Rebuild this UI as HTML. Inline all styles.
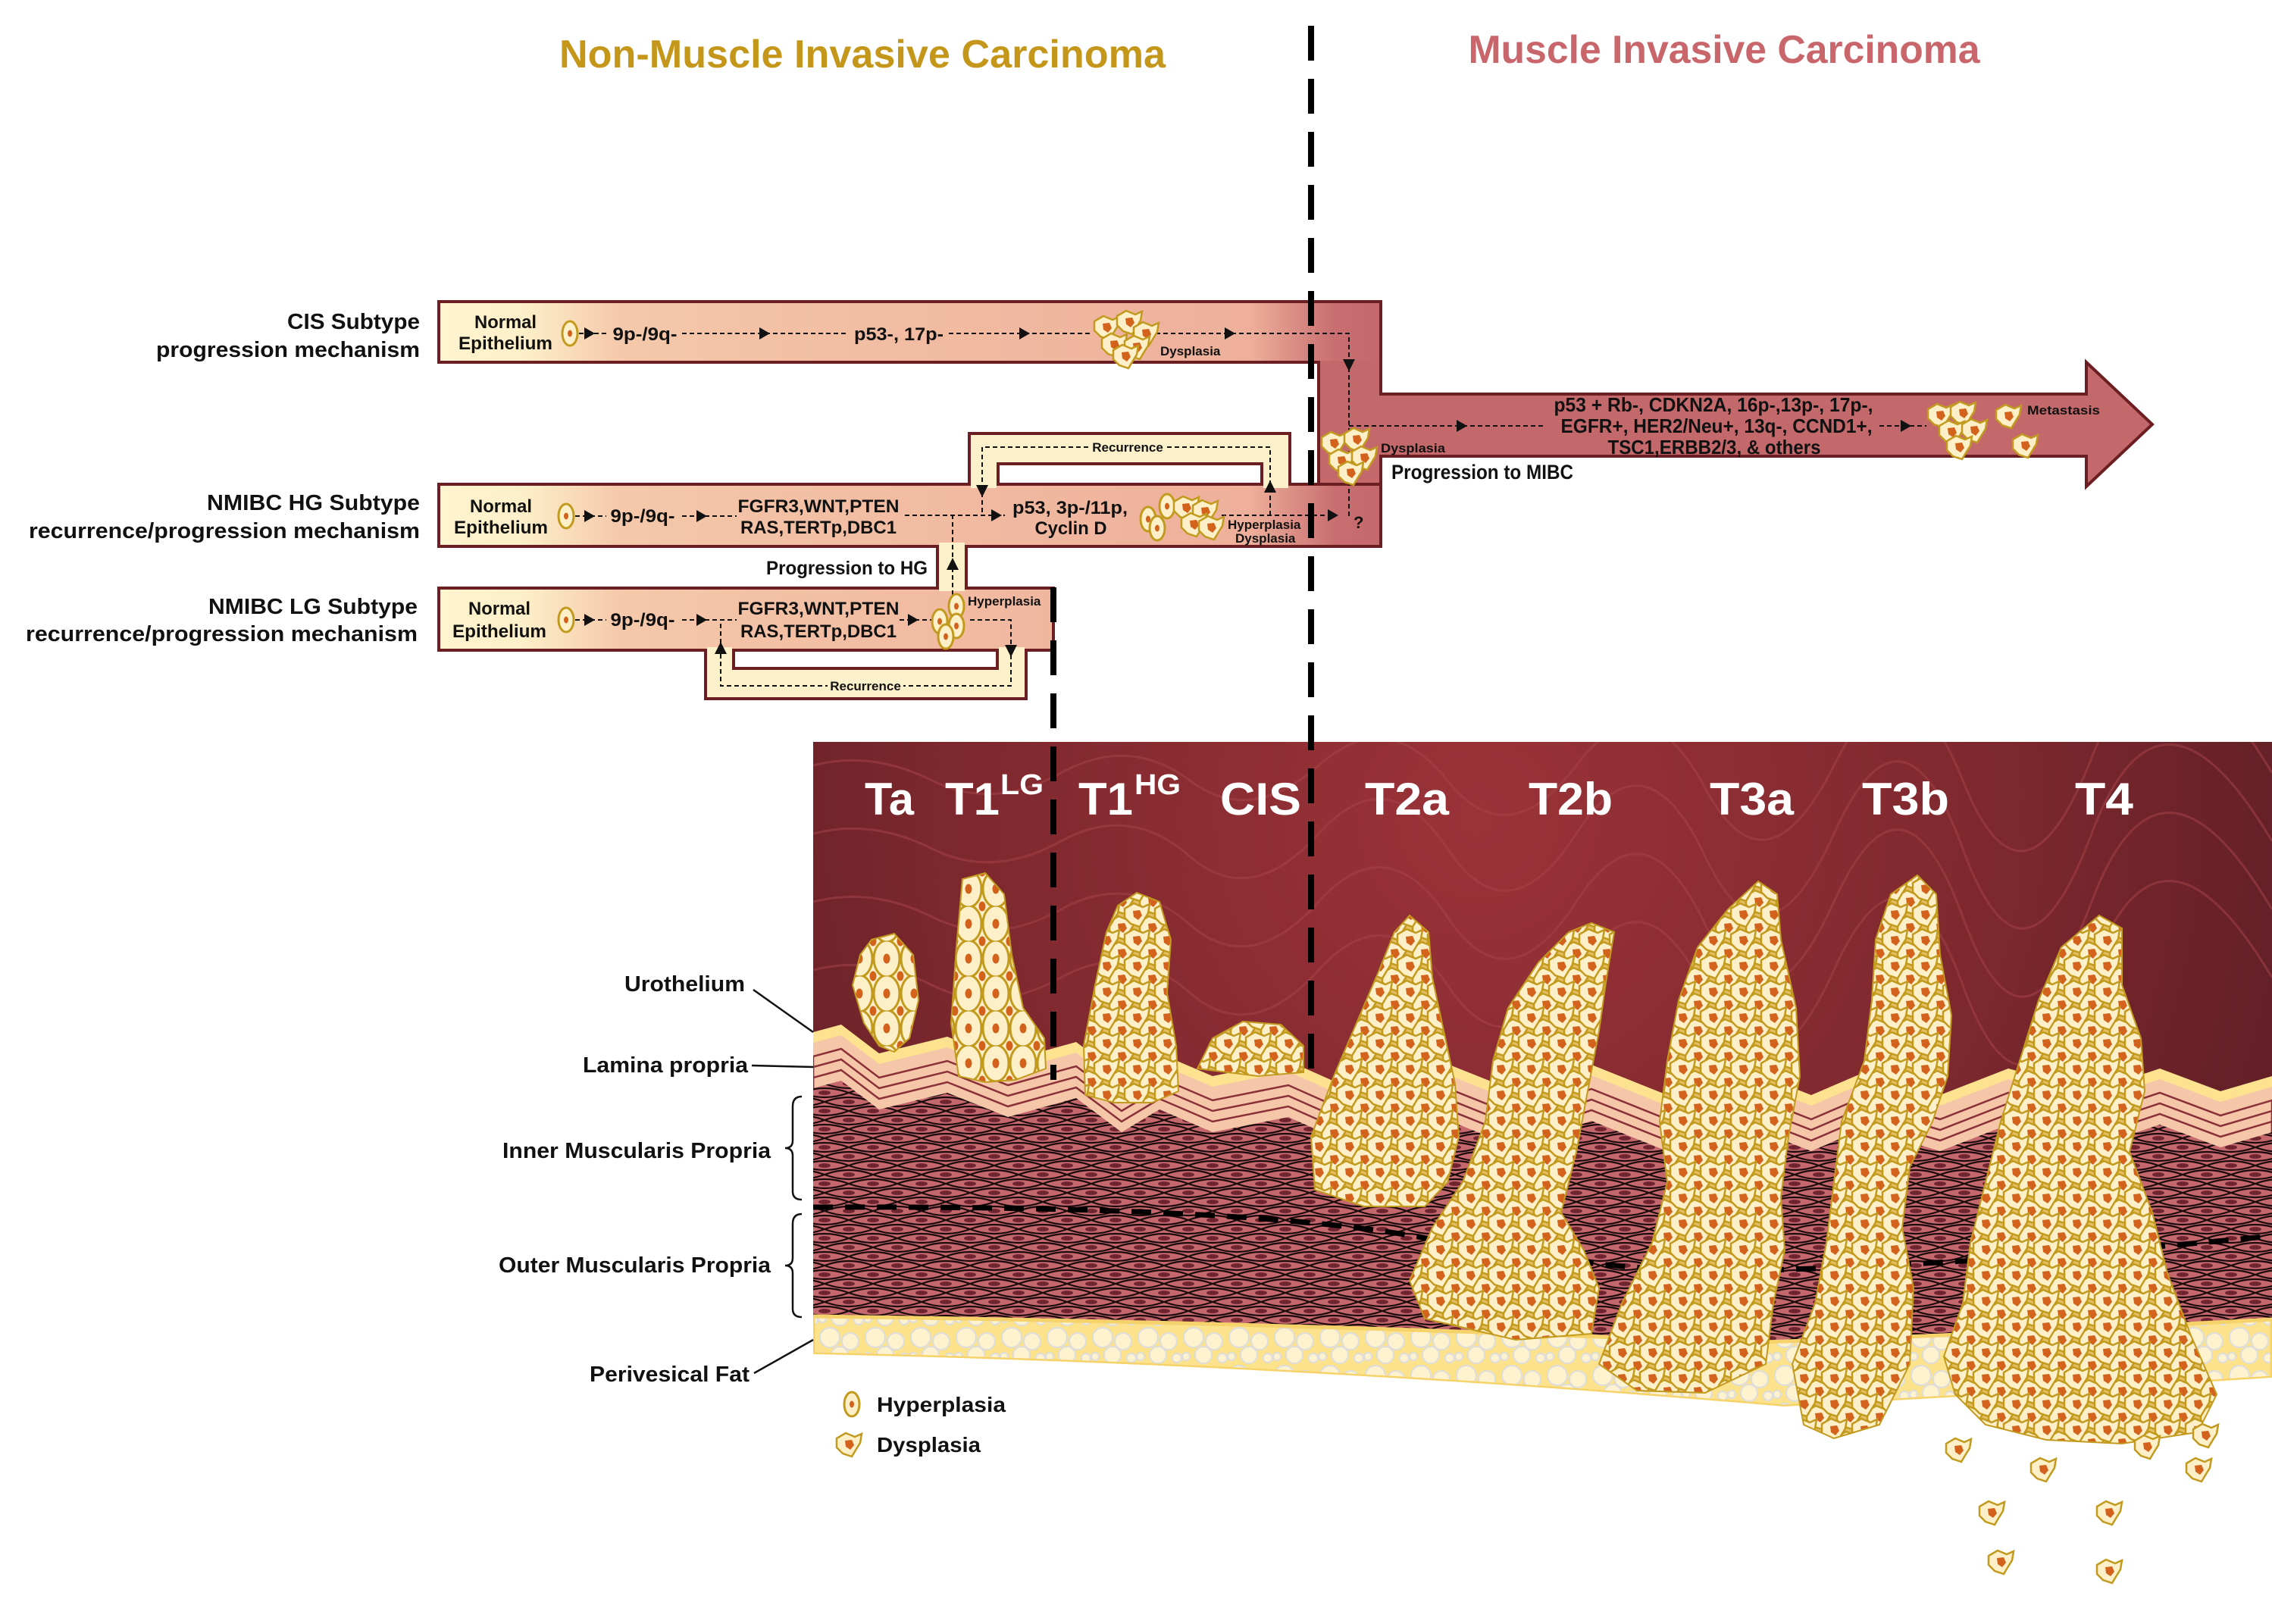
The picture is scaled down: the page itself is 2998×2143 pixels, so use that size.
<!DOCTYPE html>
<html><head><meta charset="utf-8"><style>html,body{margin:0;padding:0;background:#fff}svg{display:block}text{font-family:"Liberation Sans",sans-serif;font-weight:bold}</style></head><body>
<svg width="2998" height="2143" viewBox="0 0 2998 2143" xmlns="http://www.w3.org/2000/svg">
<defs>
<linearGradient id="bar" gradientUnits="userSpaceOnUse" x1="579" y1="0" x2="1822" y2="0">
<stop offset="0" stop-color="#fef4cf"/><stop offset="0.09" stop-color="#fdefc9"/><stop offset="0.19" stop-color="#f5c9ab"/><stop offset="0.35" stop-color="#f3c1a5"/><stop offset="0.86" stop-color="#eeb09b"/><stop offset="0.95" stop-color="#c96f71"/><stop offset="1" stop-color="#c4696b"/>
</linearGradient>
<radialGradient id="tis" gradientUnits="userSpaceOnUse" cx="1950" cy="1080" r="1150">
<stop offset="0" stop-color="#9a3338"/><stop offset="0.6" stop-color="#7d282e"/><stop offset="1" stop-color="#5e1f25"/>
</radialGradient>
<g id="dc"><path d="M-16,-8 L-4,-15 L8,-10 L17,-14 L15,-2 L10,6 L4,16 L-8,12 L-16,4 Z" fill="#fdf0c8" stroke="#c29a1e" stroke-width="2.5"/><path d="M-5,-5 L4,-6 L7,1 L2,7 L-4,3Z" fill="#d2621c"/></g>
<g id="hc"><ellipse rx="10" ry="16" fill="#fdf0c8" stroke="#c29a1e" stroke-width="3"/><ellipse rx="3" ry="4.5" fill="#d2621c"/></g>
<g id="hb"><ellipse rx="17" ry="24" fill="#fdf0c8" stroke="#c29a1e" stroke-width="3"/><ellipse rx="4.5" ry="6.5" fill="#d2621c"/></g>
<pattern id="dys" width="40" height="34" patternUnits="userSpaceOnUse">
<rect width="40" height="34" fill="#e4bf62"/>
<use href="#dc" x="0" y="0"/><use href="#dc" x="40" y="0"/><use href="#dc" x="0" y="34"/><use href="#dc" x="40" y="34"/><use href="#dc" x="20" y="17"/>
</pattern>
<pattern id="hyp" width="36" height="46" patternUnits="userSpaceOnUse">
<use href="#hb" x="0" y="0"/><use href="#hb" x="36" y="0"/><use href="#hb" x="0" y="46"/><use href="#hb" x="36" y="46"/><use href="#hb" x="18" y="23"/>
</pattern>
<pattern id="mus" width="64" height="24" patternUnits="userSpaceOnUse">
<rect width="64" height="24" fill="#c4686e"/>
<g fill="none" stroke="#1a0a0c" stroke-width="2.2">
<path d="M0,12 Q32,0 64,12 Q32,24 0,12"/>
<path d="M-32,0 Q0,12 32,0 M32,0 Q64,12 96,0"/>
<path d="M-32,24 Q0,12 32,24 M32,24 Q64,12 96,24"/>
</g>
<ellipse cx="32" cy="12" rx="8" ry="3" fill="#6e2530"/><ellipse cx="0" cy="0" rx="8" ry="3" fill="#6e2530"/><ellipse cx="64" cy="0" rx="8" ry="3" fill="#6e2530"/><ellipse cx="0" cy="24" rx="8" ry="3" fill="#6e2530"/><ellipse cx="64" cy="24" rx="8" ry="3" fill="#6e2530"/>
</pattern>
<pattern id="fat" width="60" height="50" patternUnits="userSpaceOnUse">
<rect width="60" height="50" fill="#fde28c"/>
<g fill="#fef2cf" stroke="#ddd" stroke-width="2">
<circle cx="15" cy="15" r="13"/><circle cx="42" cy="20" r="11"/><circle cx="28" cy="38" r="11"/><circle cx="53" cy="42" r="6"/><circle cx="5" cy="40" r="5"/>
</g>
</pattern>
<clipPath id="tclip"><rect x="1073" y="979" width="1925" height="1164"/></clipPath>
<path id="wave" d="M1073,1362 L1110,1352 L1160,1390 L1250,1368 L1330,1400 L1420,1375 L1480,1420 L1530,1390 L1600,1420 L1700,1400 L1790,1440 L1900,1400 L2000,1440 L2100,1405 L2200,1445 L2300,1410 L2390,1445 L2460,1415 L2560,1445 L2650,1410 L2760,1440 L2850,1410 L2930,1440 L2998,1420 L2998,2143 L1073,2143 Z"/>
</defs>

<text x="1138" y="89" font-size="52" fill="#c4961a" text-anchor="middle" textLength="800" lengthAdjust="spacingAndGlyphs">Non-Muscle Invasive Carcinoma</text>
<text x="2275" y="83" font-size="52" fill="#c9666b" text-anchor="middle" textLength="675" lengthAdjust="spacingAndGlyphs">Muscle Invasive Carcinoma</text>

<g font-size="29" fill="#111" text-anchor="end">
<text x="554" y="434" textLength="175" lengthAdjust="spacingAndGlyphs">CIS Subtype</text>
<text x="554" y="471" textLength="348" lengthAdjust="spacingAndGlyphs">progression mechanism</text>
<text x="554" y="673" textLength="281" lengthAdjust="spacingAndGlyphs">NMIBC HG Subtype</text>
<text x="554" y="710" textLength="516" lengthAdjust="spacingAndGlyphs">recurrence/progression mechanism</text>
<text x="551" y="810" textLength="276" lengthAdjust="spacingAndGlyphs">NMIBC LG Subtype</text>
<text x="551" y="846" textLength="517" lengthAdjust="spacingAndGlyphs">recurrence/progression mechanism</text>
</g>

<rect x="1279" y="572" width="423" height="80" fill="#fdf1cc" stroke="#6b1f22" stroke-width="4"/>
<rect x="1317" y="612" width="348" height="40" fill="#fff" stroke="#6b1f22" stroke-width="4"/>
<rect x="931" y="840" width="423" height="82" fill="#fdf1cc" stroke="#6b1f22" stroke-width="4"/>
<rect x="968" y="840" width="348" height="42" fill="#fff" stroke="#6b1f22" stroke-width="4"/>
<rect x="1237" y="710" width="38" height="80" fill="#fdf1cc" stroke="#6b1f22" stroke-width="4"/>

<path d="M1740,470 L1822,470 L1822,520 L2753,520 L2753,478 L2840,560 L2753,642 L2753,602 L1822,602 L1822,721 L1740,721 Z" fill="#c4696b" stroke="#6b1f22" stroke-width="4"/>
<rect x="579" y="398" width="1243" height="80" fill="url(#bar)" stroke="#6b1f22" stroke-width="4"/>
<rect x="579" y="639" width="1243" height="82" fill="url(#bar)" stroke="#6b1f22" stroke-width="4"/>
<rect x="579" y="776" width="811" height="82" fill="url(#bar)" stroke="#6b1f22" stroke-width="4"/>
<rect x="1742" y="476" width="78" height="8" fill="#c4696b"/>
<rect x="1281" y="636" width="34" height="8" fill="#fdf1cc"/><rect x="1667" y="636" width="33" height="8" fill="#fdf1cc"/>
<rect x="1239" y="716" width="34" height="8" fill="#fdf1cc"/><rect x="1239" y="772" width="34" height="8" fill="#fdf1cc"/>
<rect x="933" y="854" width="33" height="8" fill="#fdf1cc"/><rect x="1318" y="854" width="34" height="8" fill="#fdf1cc"/>

<!-- dashed connectors -->
<g fill="none" stroke="#111" stroke-width="2" stroke-dasharray="6 4">
<path d="M764,440 H802 M900,440 H1118 M1252,440 H1440 M1525,440 H1780 V681"/>
<path d="M759,681 H800 M900,681 H972"/>
<path d="M1194,680 H1326"/>
<path d="M1612,680 H1760"/>
<path d="M1676,680 V590 H1296 V680"/>
<path d="M1257,815 V680"/>
<path d="M759,818 H800 M900,818 H972 M1187,818 H1230 M1280,818 H1334 V905 H951 V818"/>
<path d="M1780,562 H2040 M2480,562 H2542"/>
</g>
<g fill="#111">
<polygon points="771,432 785,440 771,448"/><polygon points="1002,432 1016,440 1002,448"/><polygon points="1345,432 1359,440 1345,448"/><polygon points="1616,432 1630,440 1616,448"/>
<polygon points="1772,474 1788,474 1780,490"/>
<polygon points="771,673 785,681 771,689"/><polygon points="919,673 933,681 919,689"/><polygon points="1308,672 1322,680 1308,688"/><polygon points="1752,672 1766,680 1752,688"/>
<polygon points="1288,640 1304,640 1296,656"/><polygon points="1668,650 1684,650 1676,634"/>
<polygon points="1249,752 1265,752 1257,736"/>
<polygon points="771,810 785,818 771,826"/><polygon points="919,810 933,818 919,826"/><polygon points="1198,810 1212,818 1198,826"/>
<polygon points="1326,851 1342,851 1334,867"/><polygon points="943,863 959,863 951,847"/>
<polygon points="1922,554 1936,562 1922,570"/><polygon points="2508,554 2522,562 2508,570"/>
</g>

<g font-size="24" fill="#111" text-anchor="middle">
<text x="667" y="433" textLength="82" lengthAdjust="spacingAndGlyphs">Normal</text>
<text x="667" y="461" textLength="124" lengthAdjust="spacingAndGlyphs">Epithelium</text>
<text x="851" y="449" textLength="85" lengthAdjust="spacingAndGlyphs">9p-/9q-</text>
<text x="1186" y="449" textLength="118" lengthAdjust="spacingAndGlyphs">p53-, 17p-</text>
<text x="661" y="676" textLength="82" lengthAdjust="spacingAndGlyphs">Normal</text>
<text x="661" y="704" textLength="124" lengthAdjust="spacingAndGlyphs">Epithelium</text>
<text x="848" y="689" textLength="85" lengthAdjust="spacingAndGlyphs">9p-/9q-</text>
<text x="1080" y="676" textLength="213" lengthAdjust="spacingAndGlyphs">FGFR3,WNT,PTEN</text>
<text x="1080" y="704" textLength="206" lengthAdjust="spacingAndGlyphs">RAS,TERTp,DBC1</text>
<text x="1412" y="678" textLength="152" lengthAdjust="spacingAndGlyphs">p53, 3p-/11p,</text>
<text x="1413" y="705" textLength="95" lengthAdjust="spacingAndGlyphs">Cyclin D</text>
<text x="659" y="811" textLength="82" lengthAdjust="spacingAndGlyphs">Normal</text>
<text x="659" y="841" textLength="124" lengthAdjust="spacingAndGlyphs">Epithelium</text>
<text x="848" y="826" textLength="85" lengthAdjust="spacingAndGlyphs">9p-/9q-</text>
<text x="1080" y="811" textLength="213" lengthAdjust="spacingAndGlyphs">FGFR3,WNT,PTEN</text>
<text x="1080" y="841" textLength="206" lengthAdjust="spacingAndGlyphs">RAS,TERTp,DBC1</text>
</g>
<g font-size="17" fill="#111">
<text x="1531" y="469">Dysplasia</text>
<text x="1620" y="698">Hyperplasia</text>
<text x="1630" y="716">Dysplasia</text>
<text x="1277" y="799">Hyperplasia</text>
<text x="1822" y="597" textLength="85" lengthAdjust="spacingAndGlyphs">Dysplasia</text>
<text x="2675" y="547" textLength="96" lengthAdjust="spacingAndGlyphs">Metastasis</text>
</g>
<rect x="1438" y="582" width="100" height="16" fill="#fdf1cc"/>
<text x="1488" y="596" text-anchor="middle" font-size="17" fill="#111">Recurrence</text>
<rect x="1092" y="896" width="100" height="18" fill="#fdf1cc"/>
<text x="1142" y="911" text-anchor="middle" font-size="17" fill="#111">Recurrence</text>

<g font-size="26" fill="#111" text-anchor="middle">
<text x="2261" y="543" textLength="421" lengthAdjust="spacingAndGlyphs">p53 + Rb-, CDKN2A, 16p-,13p-, 17p-,</text>
<text x="2265" y="571" textLength="411" lengthAdjust="spacingAndGlyphs">EGFR+, HER2/Neu+, 13q-, CCND1+,</text>
<text x="2262" y="599" textLength="281" lengthAdjust="spacingAndGlyphs">TSC1,ERBB2/3, &amp; others</text>
</g>
<text x="1836" y="632" font-size="27" fill="#111" textLength="240" lengthAdjust="spacingAndGlyphs">Progression to MIBC</text>
<text x="1224" y="758" font-size="25" fill="#111" text-anchor="end" textLength="213" lengthAdjust="spacingAndGlyphs">Progression to HG</text>
<text x="1786" y="697" font-size="22" fill="#111">?</text>

<use href="#hc" x="752" y="440"/><use href="#hc" x="747" y="681"/><use href="#hc" x="747" y="818"/>
<g>
<use href="#dc" x="1460" y="432"/><use href="#dc" x="1490" y="425"/><use href="#dc" x="1512" y="440"/><use href="#dc" x="1470" y="455"/><use href="#dc" x="1500" y="458"/><use href="#dc" x="1485" y="470"/>
</g>
<g>
<use href="#hc" x="1515" y="685"/><use href="#hc" x="1540" y="668"/><use href="#hc" x="1527" y="697"/>
<use href="#dc" x="1565" y="670"/><use href="#dc" x="1590" y="675"/><use href="#dc" x="1575" y="692"/><use href="#dc" x="1598" y="696"/>
</g>
<g><use href="#hc" x="1240" y="820"/><use href="#hc" x="1262" y="800"/><use href="#hc" x="1262" y="826"/><use href="#hc" x="1248" y="840"/></g>
<g><use href="#dc" x="1760" y="585"/><use href="#dc" x="1790" y="580"/><use href="#dc" x="1770" y="608"/><use href="#dc" x="1800" y="604"/><use href="#dc" x="1782" y="624"/></g>
<g><use href="#dc" x="2560" y="548"/><use href="#dc" x="2590" y="545"/><use href="#dc" x="2575" y="570"/><use href="#dc" x="2605" y="568"/><use href="#dc" x="2585" y="590"/><use href="#dc" x="2650" y="549"/><use href="#dc" x="2672" y="588"/></g>

<g clip-path="url(#tclip)">
<rect x="1073" y="979" width="1925" height="1164" fill="url(#tis)"/>
<g fill="none" stroke="#a8454b" stroke-width="3" opacity="0.5">
<path d="M1073,1010 Q1150,990 1230,1030 T1400,1020 T1570,1030 T1740,1010 T1910,1030 T2080,1010 T2250,1040 T2420,1010 T2590,1030 T2760,1000 T2998,1020"/>
<path d="M1073,1100 Q1150,1080 1230,1120 T1400,1110 T1570,1130 T1740,1100 T1910,1120 T2080,1100 T2250,1130 T2420,1100 T2590,1120 T2760,1100 T2998,1110"/>
<path d="M1073,1190 Q1150,1170 1230,1210 T1400,1200 T1570,1220 T1740,1190 T1910,1210 T2080,1190 T2250,1220 T2420,1190 T2590,1210 T2760,1190 T2998,1200"/>
<path d="M1073,1280 Q1150,1260 1230,1300 T1400,1290 T1570,1310 T1740,1280 T1910,1300 T2080,1280 T2250,1310 T2420,1280 T2590,1300 T2760,1280 T2998,1290"/>
</g>
<use href="#wave" fill="#fde38f"/>
<use href="#wave" fill="#f6c6a8" transform="translate(0,14)"/>
<g fill="none" stroke="#8a3038" stroke-width="2.5">
<use href="#wave" transform="translate(0,32)"/>
<use href="#wave" transform="translate(0,46)"/>
<use href="#wave" transform="translate(0,60)"/>
</g>
<use href="#wave" fill="url(#mus)" transform="translate(0,74)"/>
<path d="M1073,1593 Q1700,1590 1920,1642 Q2150,1680 2292,1677 Q2600,1670 2998,1631" fill="none" stroke="#000" stroke-width="7" stroke-dasharray="26 16"/>
<path d="M1073,1737 Q1700,1745 2300,1772 Q2650,1760 2998,1741 L2998,1818 Q2650,1840 2354,1856 Q1700,1800 1073,1787 Z" fill="url(#fat)" stroke="#f6d36a" stroke-width="5"/>
<path d="M1073,1787 Q1700,1800 2354,1856 Q2650,1840 2998,1818 L2998,2143 L1073,2143 Z" fill="#fff"/>
</g>
<line x1="1730" y1="34" x2="1730" y2="1425" stroke="#000" stroke-width="8" stroke-dasharray="46 24"/>
<line x1="1390" y1="775" x2="1390" y2="1425" stroke="#000" stroke-width="8" stroke-dasharray="46 24"/>

<g stroke="#c29a1e" stroke-width="2">
<path d="M1150,1240 L1180,1232 L1205,1260 L1212,1320 L1200,1370 L1180,1388 L1160,1380 L1140,1350 L1125,1300 L1135,1260 Z" fill="url(#hyp)"/>
<path d="M1270,1160 L1300,1152 L1325,1180 L1335,1260 L1350,1330 L1378,1370 L1380,1410 L1340,1425 L1300,1428 L1265,1420 L1255,1350 L1262,1250 Z" fill="url(#hyp)"/>
<path d="M1500,1178 L1530,1190 L1545,1240 L1540,1310 L1552,1380 L1555,1440 L1520,1455 L1470,1455 L1432,1445 L1430,1380 L1445,1300 L1460,1230 L1475,1195 Z" fill="url(#dys)"/>
<path d="M1580,1410 L1600,1370 L1640,1348 L1690,1352 L1720,1380 L1720,1415 L1660,1420 Z" fill="url(#dys)"/>
<path d="M1860,1208 L1885,1230 L1890,1290 L1905,1360 L1920,1430 L1925,1500 L1910,1560 L1880,1592 L1800,1592 L1735,1570 L1730,1500 L1760,1420 L1790,1350 L1820,1280 L1840,1230 Z" fill="url(#dys)"/>
<path d="M2100,1218 L2130,1230 L2120,1290 L2110,1360 L2095,1440 L2080,1520 L2060,1600 L2090,1650 L2110,1700 L2100,1760 L2000,1768 L1880,1740 L1860,1690 L1890,1620 L1930,1560 L1960,1480 L1970,1400 L1990,1330 L2030,1270 L2070,1230 Z" fill="url(#dys)"/>
<path d="M2320,1163 L2345,1180 L2350,1240 L2370,1330 L2375,1420 L2360,1500 L2350,1580 L2355,1650 L2340,1720 L2330,1800 L2250,1838 L2160,1835 L2110,1800 L2140,1720 L2180,1640 L2200,1560 L2190,1480 L2200,1400 L2215,1320 L2240,1250 L2280,1200 Z" fill="url(#dys)"/>
<path d="M2530,1155 L2555,1180 L2560,1260 L2575,1340 L2570,1420 L2550,1480 L2520,1540 L2510,1620 L2525,1700 L2520,1800 L2480,1880 L2420,1898 L2380,1880 L2365,1800 L2395,1720 L2410,1640 L2420,1560 L2430,1480 L2460,1400 L2470,1320 L2475,1240 L2495,1180 Z" fill="url(#dys)"/>
<path d="M2770,1208 L2800,1225 L2800,1300 L2825,1370 L2830,1440 L2810,1520 L2840,1600 L2860,1680 L2890,1760 L2925,1840 L2900,1890 L2800,1905 L2700,1900 L2620,1880 L2580,1840 L2565,1790 L2590,1720 L2600,1640 L2620,1560 L2640,1480 L2665,1400 L2690,1320 L2720,1250 Z" fill="url(#dys)"/>
</g>
<g>
<use href="#dc" x="2584" y="1913"/><use href="#dc" x="2696" y="1939"/><use href="#dc" x="2833" y="1909"/><use href="#dc" x="2910" y="1894"/><use href="#dc" x="2901" y="1939"/><use href="#dc" x="2628" y="1996"/><use href="#dc" x="2783" y="1996"/><use href="#dc" x="2640" y="2061"/><use href="#dc" x="2783" y="2073"/>
</g>

<g font-size="60" fill="#fff">
<text x="1141" y="1075" textLength="65" lengthAdjust="spacingAndGlyphs">Ta</text>
<text x="1247" y="1075" textLength="72" lengthAdjust="spacingAndGlyphs">T1</text>
<text x="1320" y="1048" font-size="38" textLength="57" lengthAdjust="spacingAndGlyphs">LG</text>
<text x="1423" y="1075" textLength="72" lengthAdjust="spacingAndGlyphs">T1</text>
<text x="1497" y="1048" font-size="38" textLength="61" lengthAdjust="spacingAndGlyphs">HG</text>
<text x="1610" y="1075" textLength="107" lengthAdjust="spacingAndGlyphs">CIS</text>
<text x="1801" y="1075" textLength="111" lengthAdjust="spacingAndGlyphs">T2a</text>
<text x="2017" y="1075" textLength="111" lengthAdjust="spacingAndGlyphs">T2b</text>
<text x="2256" y="1075" textLength="111" lengthAdjust="spacingAndGlyphs">T3a</text>
<text x="2457" y="1075" textLength="115" lengthAdjust="spacingAndGlyphs">T3b</text>
<text x="2738" y="1075" textLength="77" lengthAdjust="spacingAndGlyphs">T4</text>
</g>

<g font-size="29" fill="#111" text-anchor="end">
<text x="983" y="1308" textLength="159" lengthAdjust="spacingAndGlyphs">Urothelium</text>
<text x="987" y="1415" textLength="218" lengthAdjust="spacingAndGlyphs">Lamina propria</text>
<text x="1017" y="1528" textLength="354" lengthAdjust="spacingAndGlyphs">Inner Muscularis Propria</text>
<text x="1017" y="1679" textLength="359" lengthAdjust="spacingAndGlyphs">Outer Muscularis Propria</text>
<text x="989" y="1823" textLength="211" lengthAdjust="spacingAndGlyphs">Perivesical Fat</text>
</g>
<g fill="none" stroke="#111" stroke-width="2.5">
<path d="M994,1306 L1073,1362"/>
<path d="M992,1406 L1073,1408"/>
<path d="M1058,1447 Q1046,1447 1046,1460 V1505 Q1046,1515 1036,1515 Q1046,1515 1046,1525 V1572 Q1046,1583 1058,1583"/>
<path d="M1058,1602 Q1046,1602 1046,1615 V1660 Q1046,1670 1036,1670 Q1046,1670 1046,1680 V1727 Q1046,1738 1058,1738"/>
<path d="M995,1812 L1073,1768"/>
</g>
<use href="#hc" x="1124" y="1853"/>
<use href="#dc" x="1120" y="1906"/>
<text x="1157" y="1863" font-size="28" fill="#111" textLength="170" lengthAdjust="spacingAndGlyphs">Hyperplasia</text>
<text x="1157" y="1916" font-size="28" fill="#111" textLength="137" lengthAdjust="spacingAndGlyphs">Dysplasia</text>
</svg>
</body></html>
